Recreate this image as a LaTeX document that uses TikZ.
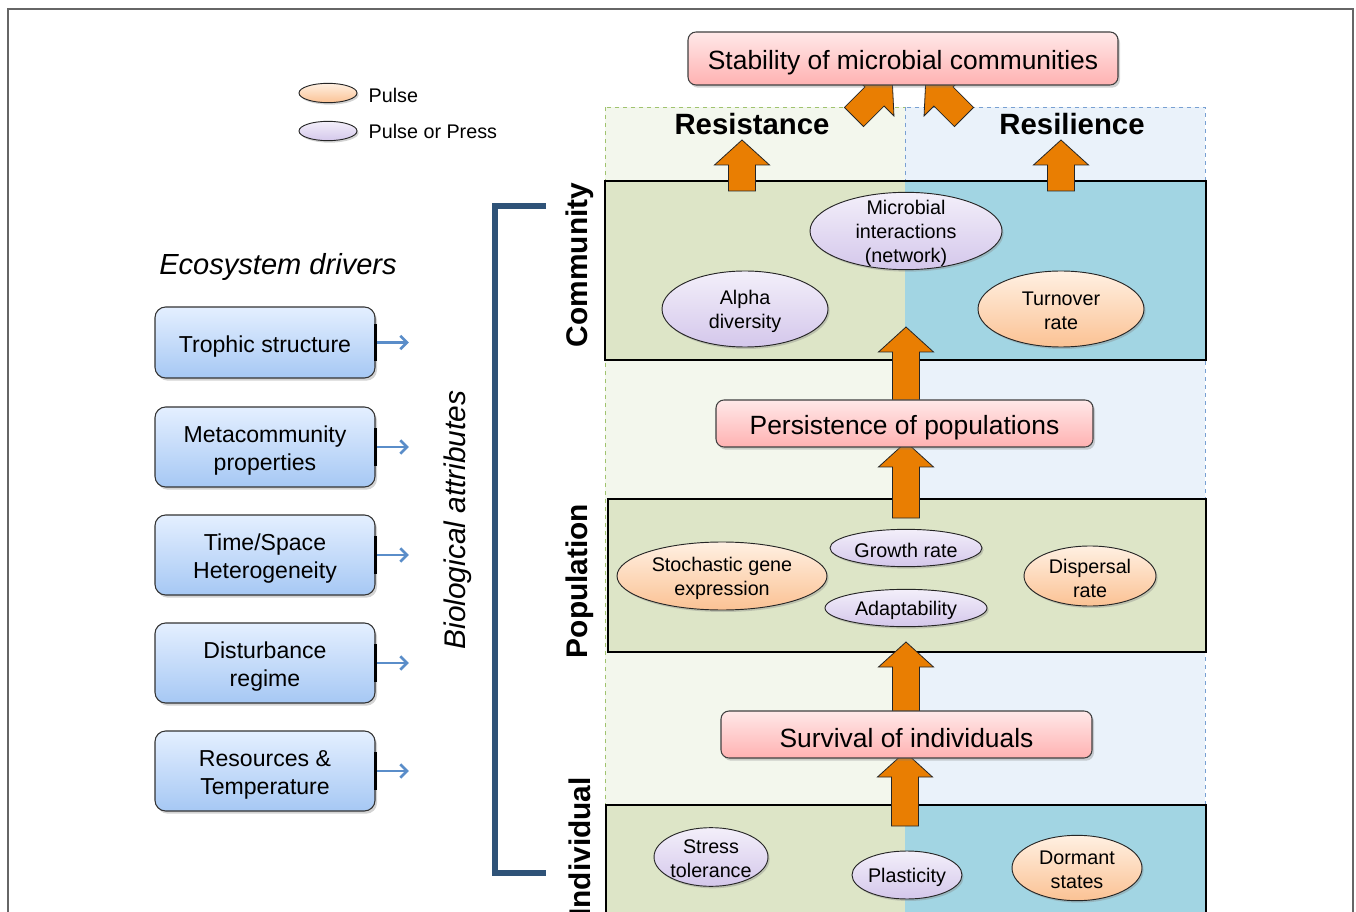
\documentclass[tikz,border=0pt]{standalone}
\usepackage{fontspec}
\setmainfont{Liberation Sans}
\usetikzlibrary{shapes.geometric,shadows,arrows.meta}

\definecolor{arrorange}{RGB}{233,126,2}
\definecolor{bgleft}{RGB}{243,247,237}
\definecolor{bgright}{RGB}{234,242,250}
\definecolor{dashgreen}{RGB}{160,195,110}
\definecolor{dashblue}{RGB}{120,160,210}
\definecolor{boxgreen}{RGB}{221,229,199}
\definecolor{boxblue}{RGB}{162,213,227}
\definecolor{pinktop}{RGB}{255,232,232}
\definecolor{pinkbot}{RGB}{255,178,178}
\definecolor{bluetop}{RGB}{228,239,255}
\definecolor{bluebot}{RGB}{166,200,244}
\definecolor{purtop}{RGB}{243,239,250}
\definecolor{purbot}{RGB}{212,199,235}
\definecolor{ortop}{RGB}{255,240,226}
\definecolor{orbot}{RGB}{251,194,148}
\definecolor{bracketcol}{RGB}{47,83,120}
\definecolor{smallarrcol}{RGB}{90,141,201}

\newcommand{\blockarrow}[3]{%
  \begin{scope}[shift={#1}, rotate=#2]
    \draw[arrorangefill] (0,-13.5) -- (#3-25,-13.5) -- (#3-25,-27.5) -- (#3,0)
      -- (#3-25,27.5) -- (#3-25,13.5) -- (0,13.5) -- cycle;
  \end{scope}}

\begin{document}
\begin{tikzpicture}[x=0.75pt,y=-0.75pt,
  arrorangefill/.style={fill=arrorange, draw=black!85, line width=0.6pt},
  pinkbox/.style={draw=black!75, line width=0.8pt, rounded corners=6pt,
    top color=pinktop, bottom color=pinkbot,
    drop shadow={opacity=0.35, shadow xshift=1.5pt, shadow yshift=-2pt},
    inner sep=0pt},
  ptext/.style={label={[font=\fontsize{19.8}{24}\selectfont, yshift=-3pt]center:#1}},
  bluebox/.style={draw=black!80, line width=0.8pt, rounded corners=8pt,
    top color=bluetop, bottom color=bluebot, minimum width=165pt,
    drop shadow={opacity=0.35, shadow xshift=1.5pt, shadow yshift=-2pt},
    inner sep=0pt},
  btext/.style={label={[align=center, font=\fontsize{17.3}{21}\selectfont, yshift=-3pt]center:#1}},
  purell/.style={ellipse, draw=black!85, line width=0.7pt, top color=purtop, bottom color=purbot,
    inner sep=0pt,
    drop shadow={opacity=0.35, shadow xshift=1.2pt, shadow yshift=-1.5pt}},
  orell/.style={ellipse, draw=black!85, line width=0.7pt, top color=ortop, bottom color=orbot,
    inner sep=0pt,
    drop shadow={opacity=0.35, shadow xshift=1.2pt, shadow yshift=-1.5pt}},
  etext/.style={label={[align=center, font=\fontsize{14.8}{18}\selectfont, yshift=-1.6pt]center:#1}},
  levelbox/.style={draw=black, line width=2.2pt},
  levellabel/.style={rotate=90, font=\bfseries\fontsize{22.4}{26}\selectfont, inner sep=0pt},
  smallarr/.style={draw=smallarrcol, line width=2pt, -{Straight Barb[length=5pt,width=10pt]}},
]
\useasboundingbox (0,0) rectangle (1356,912);
\clip (0,0) rectangle (1356,912);

% outer frame
\draw[black!60, line width=1.2pt] (8,9) rectangle (1353,940);

% background regions
\draw[fill=bgleft, draw=dashgreen, dashed, line width=0.6pt] (605,107) rectangle (905,930);
\draw[fill=bgright, draw=dashblue, dashed, line width=0.6pt] (905,107) rectangle (1205,930);

\node[font=\bfseries\fontsize{22}{26}\selectfont] (resist) at (752,124) {Resistance};
\node[font=\bfseries\fontsize{22}{26}\selectfont] (resil) at (1072,124) {Resilience};

% diagonal arrows into the stability box
\blockarrow{(854,117)}{45}{54}
\blockarrow{(964,117)}{135}{54}

\node[pinkbox, minimum width=322.5pt, minimum height=39.75pt,
  ptext={Stability of microbial communities}] (stab) at (903,58.5) {};

% legend
\node[orell, minimum width=43.5pt, minimum height=14.5pt] (legor) at (328,93) {};
\node[anchor=west, font=\fontsize{14.8}{18}\selectfont] (legortxt) at (364,95) {Pulse};
\node[purell, minimum width=43.5pt, minimum height=14.5pt] (legpu) at (328,131) {};
\node[anchor=west, font=\fontsize{14.8}{18}\selectfont] (legputxt) at (364,131) {Pulse or Press};

% ecosystem drivers
\node[font=\itshape\fontsize{21.8}{26}\selectfont] (eco) at (278,267) {Ecosystem drivers};
\node[bluebox, minimum height=53.25pt, btext={Trophic structure}] (b1) at (265,342.5) {};
\node[bluebox, minimum height=60pt, btext={Metacommunity\\properties}] (b2) at (265,447) {};
\node[bluebox, minimum height=60pt, btext={Time/Space\\Heterogeneity}] (b3) at (265,555) {};
\node[bluebox, minimum height=60pt, btext={Disturbance\\regime}] (b4) at (265,663) {};
\node[bluebox, minimum height=60pt, btext={Resources \&\\Temperature}] (b5) at (265,771) {};
\foreach \b in {b1,b2,b3,b4,b5}{
  \draw[black, line width=1.8pt] ([yshift=-14pt]\b.east) -- ([yshift=14pt]\b.east);
  \draw[smallarr] ([xshift=1pt]\b.east) -- ++(32,0);
}

% biological attributes bracket
\node[rotate=90, font=\itshape\fontsize{22.4}{26}\selectfont] (bio) at (458,520) {Biological attributes};
\coordinate (brtop) at (546,206);
\coordinate (brbot) at (546,873);
\draw[bracketcol, line width=3.8pt] (brtop) -- (495,206) -- (495,873) -- (brbot);

% level labels
\node[levellabel] (lcom) at (580,265) {Community};
\node[levellabel] (lpop) at (580,581) {Population};
\node[levellabel] (lind) at (580,847) {Individual};

% community box
\fill[boxgreen] (605,181) rectangle (905,360);
\fill[boxblue] (905,181) rectangle (1206,360);
\draw[levelbox] (605,181) rectangle (1206,360);
\blockarrow{(742,191)}{90}{51}
\blockarrow{(1061,191)}{90}{51}
\node[purell, minimum width=144pt, minimum height=58pt, etext={Microbial\\interactions\\(network)}] (micro) at (906,231) {};
\node[purell, minimum width=124.5pt, minimum height=57pt, etext={Alpha\\diversity}] (alpha) at (745,309) {};
\node[orell, minimum width=124.5pt, minimum height=57pt, etext={Turnover\\rate}] (turn) at (1061,309) {};

% arrow community <- persistence
\blockarrow{(906,405)}{90}{78}

% population box
\fill[boxgreen] (608,499) rectangle (1206,652);
\draw[levelbox] (608,499) rectangle (1206,652);
\blockarrow{(906,518)}{90}{76}
\node[pinkbox, minimum width=282.75pt, minimum height=35.25pt, ptext={Persistence of populations}] (pers) at (904.5,423.5) {};
\node[orell, minimum width=157.5pt, minimum height=51pt, etext={Stochastic gene\\expression}] (stoch) at (722,576) {};
\node[purell, minimum width=114pt, minimum height=28pt, etext={Growth rate}] (growth) at (906,548) {};
\node[purell, minimum width=121.5pt, minimum height=28pt, etext={Adaptability}] (adapt) at (906,608) {};
\node[orell, minimum width=99pt, minimum height=45pt, etext={Dispersal\\rate}] (disp) at (1090,576) {};

% arrow population <- survival
\blockarrow{(906,716)}{90}{74}

% individual box
\fill[boxgreen] (606,805) rectangle (905,930);
\fill[boxblue] (905,805) rectangle (1206,930);
\draw[levelbox] (606,805) rectangle (1206,930);
\blockarrow{(905,826)}{90}{74}
\node[pinkbox, minimum width=278.25pt, minimum height=35.25pt, ptext={Survival of individuals}] (surv) at (906.5,734.5) {};
\node[purell, minimum width=85.5pt, minimum height=44pt, etext={Stress\\tolerance}] (stress) at (711,857) {};
\node[purell, minimum width=82.5pt, minimum height=36pt, etext={Plasticity}] (plast) at (907,875) {};
\node[orell, minimum width=97.5pt, minimum height=49pt, etext={Dormant\\states}] (dorm) at (1077,868) {};

\end{tikzpicture}
\end{document}
